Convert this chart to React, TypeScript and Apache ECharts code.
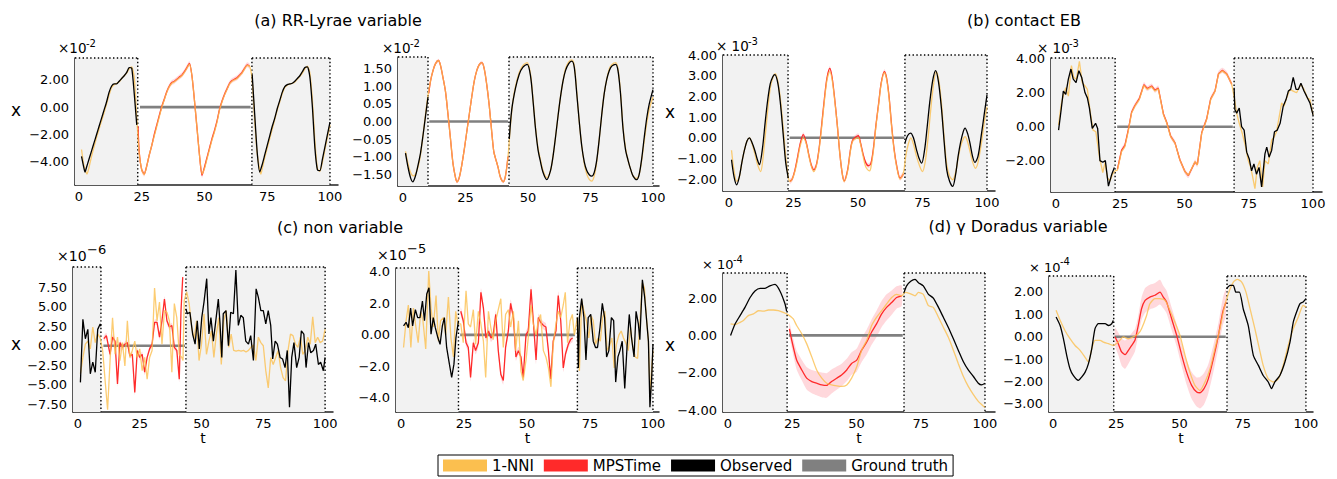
import React, { useEffect, useRef } from "react";
import * as echarts from "echarts";

type Pt = [number, number];

// ---------- shared ticks ----------
const X_TICKS = [0, 25, 50, 75, 100];
const X_TICK_LABELS = ["0", "25", "50", "75", "100"];
const LEGEND_NAMES = ["1-NNI", "MPSTime", "Observed", "Ground truth"];
const TITLES = ["(a) RR-Lyrae variable", "(b) contact EB", "(c) non variable", "(d) γ Doradus variable"];

// ---------- (a) left, x10^-2 ----------
const A1_GAP = [23.4, 68.9];
const A1_TRUTH: Pt[] = [[24.3, 0], [68.4, 0]];
const A1_Y_TICKS = [-4, -2, 0, 2];
const A1_Y_LABELS = ["−4.00", "−2.00", "0.00", "2.00"];
const A1_OBS_1: Pt[] = [[1, -3.6], [2, -4.5], [2.4, -4.75], [3, -4.4], [4, -3.8], [5, -3.2], [6, -2.6], [7, -2.0], [8, -1.4], [9, -0.8], [10, -0.2], [11, 0.4], [12, 1.1], [13, 1.55], [14, 1.7], [15, 1.7], [16, 1.9], [17, 2.1], [18, 2.3], [19, 2.55], [20, 2.9], [21, 2.85], [22, 1.0], [23, -1.3]];
const A1_OBS_2: Pt[] = [[69, 2.4], [70, -0.5], [71, -3.3], [72, -4.75], [73, -4.2], [74, -3.5], [75, -2.8], [76, -2.1], [77, -1.4], [78, -0.8], [79, -0.1], [80, 0.5], [81, 1.1], [82, 1.5], [83, 1.65], [84, 1.7], [85, 1.75], [86, 1.9], [87, 2.1], [88, 2.3], [89, 2.6], [90, 2.9], [91, 2.95], [92, 2.2], [93, 0.0], [94, -3.0], [95, -4.6], [96, -4.65], [97, -3.8], [98, -2.9], [99, -2.0], [100, -1.1]];
const A1_NNI: Pt[] = [[1, -3.1], [2, -4.3], [3.2, -4.9], [4, -4.4], [5, -3.6], [6, -2.9], [7, -2.2], [8, -1.6], [9, -1.0], [10, -0.4], [11, 0.25], [12, 0.9], [13, 1.45], [14, 1.65], [15, 1.75], [16, 1.85], [17, 2.1], [18, 2.3], [19, 2.5], [20, 2.8], [21, 2.95], [22, 2.2], [23, -0.8], [24, -3.4], [25, -4.6], [26, -4.95], [27, -4.3], [28, -3.5], [29, -2.8], [30, -2.1], [31, -1.4], [32, -0.7], [33, 0.0], [34, 0.55], [35, 1.1], [36, 1.5], [37, 1.75], [38, 1.85], [39, 2.0], [40, 2.15], [41, 2.3], [42, 2.55], [43, 2.85], [44, 3.15], [45, 2.3], [46, 0.5], [47, -1.5], [48, -3.5], [49, -4.9], [50, -4.5], [51, -3.8], [52, -3.1], [53, -2.4], [54, -1.8], [55, -1.1], [56, -0.2], [57, 0.4], [58, 0.9], [59, 1.3], [60, 1.7], [61, 1.9], [62, 2.0], [63, 2.1], [64, 2.3], [65, 2.5], [66, 2.8], [67, 3.05], [68, 3.0], [69, 2.0], [70, -1.0], [71, -3.4], [72.5, -4.9], [73, -4.5], [74, -3.7], [75, -3.0], [76, -2.3], [77, -1.6], [78, -0.9], [79, -0.2], [80, 0.4], [81, 1.0], [82, 1.45], [83, 1.6], [84, 1.7], [85, 1.75], [86, 1.85], [87, 2.05], [88, 2.25], [89, 2.5], [90, 2.8], [91, 3.0], [92, 2.5], [93, 0.5], [94, -2.5], [95, -4.5], [96, -4.7], [97, -4.0], [98, -3.1], [99, -2.2], [100, -1.3]];
const A1_MPS: Pt[] = [[23.5, -1.4], [24, -3.3], [25, -4.6], [26, -4.9], [27, -4.3], [28, -3.5], [29, -2.8], [30, -2.0], [31, -1.3], [32, -0.6], [33, 0.05], [34, 0.6], [35, 1.15], [36, 1.55], [37, 1.8], [38, 1.9], [39, 2.05], [40, 2.2], [41, 2.35], [42, 2.6], [43, 2.9], [44, 3.2], [45, 2.3], [46, 0.5], [47, -1.5], [48, -3.5], [49, -5.0], [50, -4.4], [51, -3.7], [52, -3.0], [53, -2.3], [54, -1.7], [55, -1.0], [56, -0.15], [57, 0.45], [58, 0.95], [59, 1.35], [60, 1.75], [61, 1.95], [62, 2.05], [63, 2.15], [64, 2.35], [65, 2.55], [66, 2.85], [67, 3.1], [68, 3.0]];
const A1_BAND = 0.18;

// ---------- (a) right, x10^-2 ----------
const A2_GAP = [10, 42.4];
const A2_TRUTH: Pt[] = [[10.5, 0], [42, 0]];
const A2_Y_TICKS = [-1.5, -1, -0.5, 0, 0.5, 1, 1.5];
const A2_Y_LABELS = ["−1.50", "−1.00", "−0.05", "0.00", "0.05", "1.00", "1.50"];
const A2_OBS_1: Pt[] = [[1, -0.9], [2, -1.3], [3, -1.6], [3.9, -1.72], [5, -1.55], [6, -1.25], [7, -0.9], [8, -0.4], [9, 0.15], [10, 0.7]];
const A2_OBS_2: Pt[] = [[42.5, -0.5], [43.5, 0.34], [45, 0.95], [46.5, 1.35], [48, 1.55], [49.7, 1.63], [51, 1.3], [52, 0.6], [53, -0.2], [54, -0.8], [55, -1.15], [56, -1.45], [57.5, -1.66], [59, -1.4], [60, -1.0], [61, -0.45], [62, 0.15], [63, 0.7], [64, 1.15], [65, 1.45], [66.3, 1.65], [67.5, 1.72], [68.5, 1.55], [69.5, 0.8], [70.5, 0.0], [71.5, -0.7], [72.5, -1.15], [73.5, -1.4], [74.5, -1.52], [75.5, -1.56], [76.5, -1.45], [77.5, -1.1], [78.5, -0.5], [79.5, 0.2], [80.5, 0.8], [81.5, 1.2], [82.5, 1.45], [83.5, 1.58], [85.1, 1.63], [86, 1.45], [87, 0.8], [88, -0.2], [89, -0.8], [90, -1.1], [91, -1.35], [92, -1.55], [93.5, -1.66], [94.5, -1.5], [95.5, -1.05], [96.5, -0.45], [97.5, 0.1], [98.5, 0.5], [100, 0.91]];
const A2_NNI: Pt[] = [[1, -0.85], [2, -1.2], [3, -1.45], [4, -1.55], [4.8, -1.53], [6, -1.3], [7, -0.95], [8, -0.4], [9, 0.2], [10, 0.75], [11, 1.15], [12, 1.45], [13, 1.65], [14.2, 1.74], [15, 1.6], [16, 1.25], [17, 0.85], [18, 0.2], [19, -0.5], [20, -1.2], [21, -1.6], [21.6, -1.72], [22.5, -1.6], [23.5, -1.25], [24.5, -0.8], [25.5, -0.3], [26.5, 0.2], [27.5, 0.7], [28.5, 1.15], [29.5, 1.45], [30.5, 1.62], [31.6, 1.68], [32.5, 1.5], [33.5, 1.05], [34.5, 0.45], [35.5, -0.3], [36.3, -0.85], [37, -1.05], [38, -1.3], [39, -1.6], [40.1, -1.72], [41, -1.55], [42, -1.0], [43, -0.1], [44, 0.6], [45, 1.0], [46.5, 1.4], [48, 1.6], [49.7, 1.68], [51, 1.35], [52, 0.65], [53, -0.15], [54, -0.75], [55, -1.1], [56, -1.4], [57.5, -1.6], [59, -1.4], [60, -1.0], [61, -0.45], [62, 0.15], [63, 0.7], [64, 1.15], [65, 1.5], [66.3, 1.7], [67.5, 1.76], [68.5, 1.6], [69.5, 0.85], [70.5, 0.0], [71.5, -0.7], [72.5, -1.2], [73.5, -1.5], [74.5, -1.65], [75.5, -1.7], [76.5, -1.55], [77.5, -1.15], [78.5, -0.5], [79.5, 0.2], [80.5, 0.8], [81.5, 1.2], [82.5, 1.5], [83.5, 1.62], [85.1, 1.68], [86, 1.5], [87, 0.85], [88, -0.15], [89, -0.75], [90, -1.1], [91, -1.35], [92, -1.55], [93.5, -1.62], [94.5, -1.5], [95.5, -1.1], [96.5, -0.55], [97.5, -0.05], [98.5, 0.35], [100, 0.7]];
const A2_MPS: Pt[] = [[10.3, 0.8], [11, 1.15], [12, 1.45], [13, 1.65], [14.2, 1.74], [15, 1.6], [16, 1.25], [17, 0.85], [18, 0.2], [19, -0.5], [20, -1.2], [21, -1.6], [21.6, -1.72], [22.5, -1.6], [23.5, -1.25], [24.5, -0.8], [25.5, -0.3], [26.5, 0.2], [27.5, 0.7], [28.5, 1.15], [29.5, 1.45], [30.5, 1.62], [31.6, 1.68], [32.5, 1.5], [33.5, 1.05], [34.5, 0.45], [35.5, -0.3], [36.3, -0.85], [37, -1.05], [38, -1.3], [39, -1.6], [40.1, -1.72], [41, -1.55], [42, -1.0]];
const A2_BAND = 0.05;

// ---------- (b) left, x10^-3 ----------
const B1_GAP = [22.9, 68.2];
const B1_TRUTH: Pt[] = [[23.5, 0], [68, 0]];
const B1_Y_TICKS = [-2, -1, 0, 1, 2, 3, 4];
const B1_Y_LABELS = ["−2.00", "−1.00", "0.00", "1.00", "2.00", "3.00", "4.00"];
const B1_OBS_1: Pt[] = [[1, -1.06], [2, -1.9], [3, -2.27], [4, -1.9], [5, -1.2], [6, -0.6], [7, -0.15], [7.9, 0.0], [9, -0.25], [10, -0.6], [11, -1.05], [11.8, -1.3], [13, -0.5], [14, 0.7], [15, 1.8], [16, 2.6], [17, 2.95], [17.8, 3.05], [19, 2.6], [20, 1.6], [21, 0.2], [22, -1.2], [23, -1.95]];
const B1_OBS_2: Pt[] = [[68.2, -0.26], [69.2, 0.1], [70.4, 0.23], [71.5, 0.0], [72.7, -0.58], [73.7, -1.0], [74.7, -1.22], [75.8, -0.6], [76.8, 0.5], [77.8, 1.7], [79, 2.8], [80.1, 3.25], [81.2, 2.7], [82.4, 1.35], [83.4, -0.2], [84.4, -1.55], [85.5, -2.1], [86.7, -2.35], [87.8, -1.8], [88.8, -0.9], [89.8, -0.2], [90.8, 0.3], [91.5, 0.47], [92.5, 0.2], [93.4, -0.26], [94.4, -0.9], [95.3, -1.19], [96.5, -0.9], [97.9, 0.23], [99, 1.2], [100, 2.08]];
const B1_NNI: Pt[] = [[1, -0.6], [2, -1.6], [3, -2.1], [4, -1.9], [5, -1.2], [6, -0.6], [7, -0.15], [8, 0.0], [9, -0.3], [10, -0.75], [11, -1.25], [12.3, -1.63], [13, -1.2], [14, 0.0], [15, 1.3], [16, 2.4], [17, 2.9], [18, 3.1], [19, 2.7], [20, 1.8], [21, 0.5], [22, -0.9], [23, -1.9], [23.6, -2.11], [24.5, -2.0], [25.5, -1.65], [26.5, -1.1], [27.5, -0.45], [28.8, 0.0], [30, -0.3], [31, -0.9], [32, -1.4], [32.9, -1.63], [34, -1.3], [35, -0.5], [36, 0.6], [37, 1.8], [38, 2.8], [39.1, 3.2], [40, 2.8], [41, 1.8], [42, 0.6], [43, -0.8], [44, -1.8], [44.7, -2.11], [46, -1.6], [47, -0.7], [48, -0.15], [50.1, 0.0], [51, -0.3], [52, -0.9], [53, -1.4], [54.4, -1.6], [55, -1.45], [56, -0.6], [57, 0.6], [58, 1.6], [59, 2.6], [60.2, 3.15], [61, 2.9], [62, 2.0], [63, 0.6], [64, -0.6], [65, -1.4], [66.3, -2.0], [67.6, -1.7], [68.5, -0.9], [69.5, -0.3], [70.5, 0.0], [71.5, -0.3], [72.7, -0.9], [74, -1.4], [75, -1.63], [76, -1.2], [77, -0.2], [78, 1.1], [79, 2.3], [80.3, 3.2], [81.3, 2.8], [82.4, 1.6], [83.4, 0.0], [84.4, -1.3], [85.5, -1.85], [86.7, -2.03], [87.8, -1.7], [88.8, -1.0], [89.8, -0.4], [91, 0.0], [91.5, 0.06], [92.5, -0.2], [93.5, -0.7], [94.5, -1.2], [95.5, -1.47], [96.5, -1.2], [97.9, -0.2], [99, 0.8], [100, 1.5]];
const B1_MPS: Pt[] = [[23.6, -2.11], [24.5, -2.0], [25.5, -1.6], [26.5, -1.0], [27.5, -0.35], [28.8, 0.15], [30, -0.25], [31, -0.85], [32, -1.35], [32.9, -1.55], [34, -1.25], [35, -0.45], [36, 0.7], [37, 1.9], [38, 2.9], [39.1, 3.35], [40, 2.9], [41, 1.85], [42, 0.6], [43, -0.8], [44, -1.8], [44.7, -2.08], [46, -1.55], [47, -0.65], [48, -0.1], [50.1, 0.1], [51, -0.25], [52, -0.8], [53, -1.2], [54, -1.35], [55, -1.25], [56, -0.5], [57, 0.65], [58, 1.65], [59, 2.65], [60.2, 3.2], [61, 2.95], [62, 2.05], [63, 0.65], [64, -0.55], [65, -1.35], [66.3, -1.95], [67.6, -1.75]];
const B1_BAND = 0.12;

// ---------- (b) right, x10^-3 ----------
const B2_GAP = [23, 69.3];
const B2_TRUTH: Pt[] = [[23.8, 0], [68.8, 0]];
const B2_Y_TICKS = [-2, 0, 2, 4];
const B2_Y_LABELS = ["−2.00", "0.00", "2.00", "4.00"];
const B2_OBS_1: Pt[] = [[1, -0.2], [2, 1.0], [2.85, 2.1], [3.8, 1.9], [4.8, 2.8], [5.8, 3.4], [6.7, 2.8], [7.8, 2.6], [8.9, 3.3], [10, 2.9], [11.3, 2.0], [12.2, 1.7], [13, 1.1], [14.1, -0.1], [15.4, 0.2], [16.2, -0.1], [17.1, -2.0], [18.2, -2.1], [19.2, -2.0], [20.4, -3.5], [21.7, -2.8], [22.7, -2.4]];
const B2_OBS_2: Pt[] = [[69.3, 2.3], [69.6, 1.0], [70.3, 0.8], [71.3, 1.1], [72.2, 0.0], [73.2, -0.2], [74.2, -1.5], [75.2, -1.9], [76.1, -2.6], [77, -2.2], [78, -2.8], [79, -2.4], [80, -3.55], [81.3, -1.6], [82, -1.2], [82.9, -1.8], [83.9, -1.4], [85, -0.3], [86.1, -0.2], [87.2, 0.2], [88.4, 1.2], [89.5, 1.6], [90.4, 2.1], [91.3, 2.2], [92.3, 2.9], [93.4, 2.2], [94.3, 2.2], [95.3, 2.56], [96.5, 2.1], [97.5, 1.8], [98.8, 1.4], [100, 0.7]];
const B2_NNI: Pt[] = [[1, 0.1], [2, 1.3], [2.8, 1.8], [3.8, 2.3], [4.8, 1.8], [6, 3.6], [6.9, 2.9], [7.9, 2.8], [9.1, 3.85], [10.2, 2.6], [11.3, 2.4], [12.2, 2.2], [13.2, 1.0], [14.4, -0.2], [15.5, -0.3], [16.9, -1.8], [18.2, -2.7], [19.1, -2.1], [20, -3.0], [21, -3.2], [22, -2.8], [23, -2.6], [23.9, -2.56], [25.5, -1.47], [26.8, -1.17], [28.1, -0.28], [29.4, 0.81], [30.7, 1.21], [32.4, 1.6], [34.2, 2.44], [35.5, 2.2], [37.2, 2.36], [38.5, 2.1], [39.8, 2.24], [41.8, 0.71], [43.1, 0.22], [44.6, -0.58], [46.3, -0.97], [48.2, -1.96], [50.2, -2.66], [51.5, -2.86], [52.8, -2.46], [54.1, -2.06], [55, -2.26], [56.7, -0.38], [58.6, 0.42], [60.2, 1.61], [61.9, 2.1], [63.2, 3.1], [64.7, 3.29], [66.4, 3.1], [68.4, 2.5], [69.5, 1.6], [70.3, 0.8], [71.3, 0.2], [72.5, -0.4], [73.8, -1.2], [74.8, -2.0], [75.8, -2.4], [77.4, -3.65], [78.3, -2.4], [79.3, -2.0], [80.4, -3.55], [81.3, -2.0], [82.6, -2.2], [83.9, -0.8], [84.9, -0.6], [85.8, -0.3], [87.8, 1.4], [88.7, 1.2], [90, 1.8], [91, 2.2], [92.3, 2.1], [93.6, 2.0], [95.3, 2.5], [96.5, 2.2], [97.8, 1.7], [98.8, 1.6], [100, 0.7]];
const B2_MPS: Pt[] = [[23.9, -2.5], [25.5, -1.4], [26.8, -1.1], [28.1, -0.2], [29.4, 0.85], [30.7, 1.25], [32.4, 1.65], [34.2, 2.48], [35.5, 2.25], [37.2, 2.4], [38.5, 2.15], [39.8, 2.28], [41.8, 0.75], [43.1, 0.25], [44.6, -0.55], [46.3, -0.95], [48.2, -1.95], [50.2, -2.65], [51.5, -2.88], [52.8, -2.48], [54.1, -2.08], [55, -2.24], [56.7, -0.35], [58.6, 0.45], [60.2, 1.65], [61.9, 2.12], [63.2, 3.12], [64.7, 3.32], [66.4, 3.12], [68.4, 2.5]];
const B2_BAND = 0.15;

// ---------- (c) left, x10^-6 ----------
const C1_GAP = [9.3, 43.7];
const C1_TRUTH: Pt[] = [[10.3, 0], [43.3, 0]];
const C1_Y_TICKS = [-7.5, -5, -2.5, 0, 2.5, 5, 7.5];
const C1_Y_LABELS = ["−7.50", "−5.00", "−2.50", "0.00", "2.50", "5.00", "7.50"];
const C1_OBS_1: Pt[] = [[1, -4.7], [2, 3.4], [3, 0.9], [4, 2.1], [5, -3.6], [6, -2.1], [7, -3.4], [8, 2.1], [9, 2.8], [9.3, 2.5]];
const C1_OBS_2: Pt[] = [[43.7, 4.7], [44.3, 4.1], [45.3, 4.3], [46.4, 1.5], [47.4, 0.2], [48.3, 3.2], [49.1, -0.4], [50.1, 3.6], [51, 5.6], [52.1, 8.6], [53, 1.5], [53.8, 3.6], [54.8, 0.6], [55.7, 3.0], [56.8, 6.0], [57.5, 2.8], [58.2, -1.5], [58.8, 4.1], [59.9, 4.5], [60.9, 0], [61.8, 4.3], [62.9, 4.1], [63.9, 9.7], [64.9, 2.6], [65.9, 3.9], [66.9, 3.6], [67.9, 0.6], [69, 0.2], [69.9, 1.3], [71, -1.9], [72.1, 7.3], [73, 6.2], [74, 4.5], [75, 4.5], [76, 2.8], [77, 4.5], [78, 2.6], [78.8, -1.7], [79.8, 0.6], [80.7, 0.2], [81.8, -1.5], [82.8, -1.7], [83.8, -2.8], [84.7, -0.6], [85.6, -7.9], [86.5, -1.5], [87.4, 0.4], [88.5, -2.8], [89.5, -1.5], [90.4, 1.9], [91.4, 1.5], [92.3, -2.8], [93.3, 0.4], [94.2, -0.9], [95.3, -0.6], [96.2, 0.2], [97.3, -2.4], [98.2, -2.1], [99.3, -3.2], [100, -1.5]];
const C1_NNI: Pt[] = [[1, -3.6], [2, -1.5], [3, 0.2], [4, 0.6], [5, -0.4], [6, 2.4], [7, 0.4], [8, 1.5], [9, 1.0], [10, -0.6], [11, -4.5], [12, -8.2], [13, -1.9], [14, 3.6], [15, -1.1], [16, 1.1], [17, -1.9], [18, 0.4], [19, -2.6], [20, 3.2], [21, -1.5], [22, -0.6], [23, 0.6], [24, -1.5], [25, -0.4], [26, -3.2], [27, -1.5], [28, -4.3], [29, -1.5], [30, -0.6], [31, 7.4], [32, 3.2], [33, 5.6], [34, 0.2], [35, 4.5], [36, 4.3], [37, 3.2], [38, -3.4], [39, 5.4], [40, 3.6], [41, -1.1], [42, -1.5], [42.5, -1.9], [43, 5.8], [44, 6.9], [45, 5.4], [46, 2.4], [47, 0.9], [48, 3.2], [49, -1.9], [50, 0.2], [51, 4.1], [52, -1.1], [53, 0.6], [54, 1.9], [55, -1.5], [56, 1.5], [57, 3.6], [58, -2.4], [59, 3.2], [60, 4.5], [61, -0.2], [62, 1.5], [63, -0.6], [64, -0.7], [65, -0.6], [66, -0.7], [67, -0.6], [68, -0.8], [69, -0.6], [70, -0.2], [71, 0.1], [72, -1.9], [73, 1.1], [74, 0.4], [75, 0], [76, -3.2], [77, -5.4], [78, -1.5], [79, -2.4], [80, -1.5], [81, -0.6], [82, -2.8], [83, -4.1], [84, -4.5], [85, -0.6], [86, 1.5], [87, 1.3], [88, 0.2], [89, -0.2], [90, 1.1], [91, -1.1], [92, -0.6], [93, 1.1], [94, 0.2], [95, 3.7], [96, 0.4], [97, 1.1], [98, 0.4], [99, 0.6], [100, 2.1]];
const C1_MPS: Pt[] = [[10.5, 0.9], [11.5, 1.3], [13, -1.1], [14, 1.1], [15, 0.6], [16, -4.9], [17, 0.4], [18, -0.2], [19, 0.2], [20, 0.4], [21, -1.3], [22, -1.1], [23, -6.0], [24, -0.6], [25, -1.5], [26, -1.1], [27, -3.4], [28, -1.5], [29, -0.4], [30, 0.2], [31, 3.0], [32, 3.0], [33, 1.1], [34, 3.2], [35, 6.0], [36, 3.2], [37, 2.4], [38, 2.6], [39, -0.2], [40, -0.6], [41, -4.3], [41.7, 4.5], [42.4, 8.8]];
const C1_BAND = 0.35;

// ---------- (c) right, x10^-5 ----------
const C2_GAP = [22.8, 70];
const C2_TRUTH: Pt[] = [[23.5, 0], [69, 0]];
const C2_Y_TICKS = [-4, -2, 0, 2, 4];
const C2_Y_LABELS = ["−4.0", "−2.0", "0.00", "2.0", "4.0"];
const C2_OBS_1: Pt[] = [[1, 0.57], [2, 0.8], [2.9, 0.46], [3.8, 1.7], [4.6, 0.57], [5.7, 1.6], [6.6, 1.1], [7.5, 1.1], [8.5, 2.15], [9.3, 0.9], [10.2, 2.6], [11.1, 3.0], [11.9, 0.04], [12.8, 1.1], [13.6, 0.46], [14.6, -0.17], [15.5, -0.6], [16.4, 0.57], [17.2, 1.1], [18.1, -0.8], [19.2, -1.86], [20.1, -2.7], [21, -1.86], [21.8, -0.17], [22.8, 0.9]];
const C2_OBS_2: Pt[] = [[70, 1.1], [70.4, -2.1], [70.8, 1.1], [71.7, 2.3], [72.6, 1.1], [73.4, -1.6], [74.3, 1.1], [75.3, 1.3], [76.3, -0.4], [77.2, -0.8], [78, -0.8], [79, 0.5], [79.9, 2.0], [80.8, 1.1], [81.6, -1.4], [82.5, -1.0], [83.5, 1.1], [84.4, 0.9], [85.2, -3.0], [86.1, -1.4], [86.9, -1.0], [87.8, -0.4], [88.8, -3.4], [89.7, -0.8], [90.6, 1.3], [91.5, -0.2], [92.5, -1.4], [93.3, 1.5], [94.2, 0.7], [94.8, -0.3], [95.8, 3.5], [96.7, 2.4], [97.5, 0.9], [98.2, -0.4], [98.8, -4.6], [99.5, -2.7], [100, -0.6]];
const C2_NNI: Pt[] = [[1, -0.8], [2, 0.9], [2.9, 1.9], [3.9, -0.8], [4.9, 1.7], [5.9, 0.5], [6.8, -0.5], [7.8, 1.5], [8.7, 0.9], [9.8, -0.9], [11, 4.05], [11.9, 1.7], [12.8, 0.5], [13.9, 2.5], [14.8, -0.4], [15.7, 0.9], [16.8, 1.1], [17.7, 0], [18.8, 2.4], [19.8, -0.2], [20.8, -1.4], [21.7, 1.5], [22.6, 0.7], [23.7, 0.7], [24.7, -0.5], [25.8, 2.8], [26.7, 0.7], [27.6, 0.5], [28.7, 1.6], [29.6, -0.6], [30.7, 1.5], [31.6, 0.8], [32.7, -0.4], [33.6, -2.7], [34.7, 1.5], [35.6, 0.5], [36.6, -0.3], [37.6, 0.9], [38.6, 1.6], [39.6, 2.3], [40.6, -0.8], [41.5, 1.3], [42.6, 1.6], [43.5, 0.5], [44.6, 1.5], [45.5, -1.0], [46.6, 0.9], [47.6, -2.3], [48.5, -2.9], [49.6, -1.6], [50.5, -0.2], [51.6, 1.9], [52.5, 0.7], [53.6, 0], [54.5, 0.9], [55.4, 1.3], [56.5, -1.0], [57.5, -1.4], [58.5, -2.1], [59.5, -3.3], [60.4, -0.6], [61.5, 0.7], [62.4, 1.5], [63.4, 1.1], [64.4, 1.9], [65.2, 2.7], [66.1, -0.5], [67.1, 0.9], [68, 1.3], [68.8, 0], [70, 1.1], [70.8, -2.3], [71.7, 2.2], [72.6, 1.5], [73.6, 0.9], [74.5, -0.2], [75.5, 1.2], [76.3, 0.9], [77.2, -0.6], [78.2, -0.2], [79.1, -0.4], [80, 1.1], [80.9, 1.5], [81.8, -1.0], [82.8, -0.7], [83.7, -0.2], [84.6, -2.1], [85.5, -0.6], [86.5, 0], [87.4, 0.25], [88.3, -0.2], [89.2, -0.5], [90.2, -1.0], [91.1, 0.5], [92, -0.8], [93, -1.4], [93.9, -1.5], [94.8, 0.7], [95.8, 3.3], [96.6, 3.0], [97.5, 0.9], [98.2, -0.4], [98.9, -4.0], [99.5, -2.1], [100, -1.0]];
const C2_MPS: Pt[] = [[23.7, 1.5], [24.7, 0.9], [25.8, -0.5], [26.7, -0.8], [27.6, -2.7], [28.7, -0.5], [29.6, -1.0], [30.7, -0.5], [31.7, 2.7], [32.7, 1.7], [33.7, -0.2], [34.7, 0.25], [35.7, -0.2], [36.6, 0], [37.6, 1.3], [38.6, -1.0], [39.6, -2.5], [40.6, -2.9], [41.5, -0.8], [42.6, 0.25], [43.5, 2.0], [44.6, 1.1], [45.6, -1.4], [46.6, -1.0], [47.6, -1.4], [48.5, -2.7], [49.6, 0], [50.5, 0.25], [51.6, 2.9], [52.5, 0.9], [53.6, -1.6], [54.5, 1.1], [55.4, 0.8], [56.5, 0.6], [57.5, 0.5], [58.5, -1.0], [59.4, -2.8], [60.4, -0.4], [61.5, 0.25], [62.4, 2.5], [63.4, 0.9], [64.4, -2.1], [65.3, -1.2], [66.4, -0.6], [67.3, -0.3], [68.1, -0.2]];
const C2_BAND = 0.25;

// ---------- (d) left, x10^-4 ----------
const D1_GAP = [23, 68.5];
const D1_TRUTH: Pt[] = [[23.7, 0], [68, 0]];
const D1_Y_TICKS = [-4, -2, 0, 2];
const D1_Y_LABELS = ["−4.00", "−2.00", "0.00", "2.00"];
const D1_OBS_1: Pt[] = [[1, 0], [2.7, 0.6], [4.7, 1.06], [6.6, 1.5], [8.6, 2.03], [10.5, 2.38], [12.5, 2.52], [14.4, 2.52], [16.3, 2.65], [18.3, 2.73], [20.2, 2.38], [22.2, 1.68], [22.8, 1.3]];
const D1_OBS_2: Pt[] = [[68.5, 2.3], [69.5, 2.65], [71.1, 2.9], [72.8, 3.0], [74.1, 2.82], [76, 2.65], [78, 2.2], [79.9, 2.0], [81.9, 1.5], [83.8, 0.97], [85.7, 0.44], [87.7, -0.18], [89.6, -0.79], [91.6, -1.41], [93.5, -1.85], [95.5, -2.2], [97.4, -2.56], [98.7, -2.65], [100, -2.56]];
const D1_NNI: Pt[] = [[1, 0.62], [2.7, 0.58], [4.7, 0.7], [6, 0.8], [7.9, 1.06], [9.9, 1.15], [11.8, 1.32], [13.8, 1.3], [15.7, 1.36], [17.7, 1.36], [19.6, 1.32], [21.5, 1.23], [23.5, 1.1], [25.4, 0.88], [26.7, 0.53], [28.7, 0.09], [30.6, -0.44], [32.6, -1.15], [34.5, -1.85], [36.5, -2.29], [38.4, -2.56], [40.3, -2.65], [42.3, -2.7], [44.2, -2.73], [46.2, -2.65], [48.1, -2.29], [50.1, -1.68], [52, -0.79], [54, -0.26], [55.9, 0.53], [57.8, 0.97], [59.8, 1.32], [61.7, 1.68], [63.7, 2.03], [65.6, 2.2], [67.6, 2.12], [68.9, 2.3], [70.8, 2.24], [72.8, 2.12], [74.1, 2.3], [76, 2.2], [78, 1.59], [79.9, 1.5], [81.9, 0.97], [83.8, 0.44], [85.7, -0.09], [87.7, -0.79], [89.6, -1.5], [91.6, -2.2], [93.5, -2.73], [95.5, -3.17], [97.4, -3.53], [99.4, -3.79], [100, -3.85]];
const D1_MPS: Pt[] = [[23.9, 0.35], [24.8, -0.26], [26.7, -1.32], [28.7, -1.85], [30.6, -2.29], [32.6, -2.47], [34.5, -2.56], [36.5, -2.65], [38.4, -2.68], [40.3, -2.47], [42.3, -2.29], [44.2, -2.12], [46.2, -1.85], [48.1, -1.5], [50.1, -1.32], [52, -0.79], [54, -0.35], [55.9, 0.18], [57.8, 0.62], [59.8, 1.15], [61.7, 1.5], [63.7, 1.76], [65.6, 2.03], [67.6, 2.12]];
const D1_BAND = [0.35, 0.4, 0.5, 0.55, 0.6, 0.62, 0.64, 0.66, 0.66, 0.64, 0.62, 0.6, 0.6, 0.6, 0.62, 0.64, 0.66, 0.68, 0.7, 0.7, 0.7, 0.65, 0.6, 0.55];

// ---------- (d) right, x10^-4 ----------
const D2_GAP = [24, 68.8];
const D2_TRUTH: Pt[] = [[24.3, 0], [68.3, 0]];
const D2_Y_TICKS = [-3, -2, -1, 0, 1, 2];
const D2_Y_LABELS = ["−3.00", "−2.00", "−1.00", "0.00", "1.00", "2.00"];
const D2_OBS_1: Pt[] = [[1.2, 0.88], [2.8, 0.5], [4.1, -0.09], [5.4, -0.83], [6.7, -1.43], [8, -1.73], [10, -1.95], [11.3, -1.8], [12.7, -1.58], [14, -1.2], [15.3, -0.54], [16.6, 0.36], [17.9, 0.58], [19.2, 0.58], [20.6, 0.58], [21.9, 0.5], [23.2, 0.58], [23.8, 0.73]];
const D2_OBS_2: Pt[] = [[68.6, 2.14], [70, 2.29], [71.3, 2.29], [72.3, 1.99], [73.7, 1.99], [75.2, 1.25], [77.2, 0.5], [79.2, -0.83], [81.2, -1.28], [83.1, -1.73], [85.1, -2.02], [86.4, -2.32], [87.7, -2.02], [89.7, -1.73], [91.7, -1.13], [93.7, -0.24], [95, 0.65], [96.3, 1.1], [97.6, 1.47], [98.9, 1.55], [100, 1.7]];
const D2_NNI: Pt[] = [[1.2, 1.18], [2.8, 0.73], [4.7, 0.28], [6.7, -0.09], [8.7, -0.39], [10.7, -0.61], [12.6, -0.91], [14, -1.13], [15.3, -0.54], [16.6, -0.16], [18.6, -0.16], [19.9, -0.24], [21.9, -0.31], [23.8, -0.39], [25.8, -0.24], [27.8, -0.01], [29.8, -0.09], [31.8, 0], [33.7, 0.13], [35, 0.36], [37, 0.95], [38.3, 1.47], [40.3, 1.7], [42.3, 1.7], [44.3, 1.62], [46.2, 1.18], [48.2, 0.65], [50.2, 0.06], [52.2, -0.83], [54.1, -1.58], [56.1, -2.17], [58.1, -2.4], [60.1, -2.02], [62.1, -1.43], [64, -0.54], [66, 0.36], [67.6, 1.25], [69.3, 1.92], [71.3, 2.44], [72.9, 2.56], [74.6, 2.44], [76.3, 1.99], [77.9, 1.25], [79.8, 0.36], [81.6, -0.54], [83.1, -1.28], [85.1, -1.88], [87.1, -2.02], [89.1, -1.88], [91, -1.28], [93, -0.39], [95, 0.36], [97, 0.88], [98.9, 1.4], [100, 1.32]];
const D2_MPS: Pt[] = [[24.5, 0], [25.8, -0.31], [27.1, -0.68], [28.5, -0.8], [29.8, -0.61], [31.1, -0.39], [32.4, -0.16], [33.7, 0.5], [35, 1.25], [36.4, 1.62], [38.3, 1.77], [40.3, 1.85], [42.3, 1.99], [43.6, 1.77], [44.9, 1.55], [46.9, 0.8], [48.9, 0.06], [50.9, -0.83], [52.8, -1.58], [54.8, -2.17], [56.8, -2.47], [58.1, -2.5], [59.7, -2.32], [61.4, -1.88], [63.4, -0.98], [65.4, 0.06], [67.1, 1.1], [68.4, 1.55]];
const D2_BAND = [0.4, 0.5, 0.6, 0.63, 0.6, 0.55, 0.5, 0.45, 0.5, 0.55, 0.55, 0.55, 0.55, 0.5, 0.5, 0.5, 0.5, 0.5, 0.55, 0.6, 0.65, 0.7, 0.7, 0.65, 0.6, 0.55, 0.6, 0.6];

// ---------- styling ----------
const FONT = '"DejaVu Sans", "Liberation Sans", sans-serif';
const C_NNI = "#fbbf4f";
const C_MPS = "#ff2a2a";
const C_OBS = "#000000";
const C_GT = "#808080";
const C_SHADE = "#f2f2f2";

interface Panel {
  left: number; top: number; width: number; height: number;
  xMin: number; xMax: number; yMin: number; yMax: number;
  yTicks: number[]; yLabels: string[];
  gap: number[]; truth: Pt[];
  obs1: Pt[]; obs2: Pt[]; nni: Pt[]; mps: Pt[]; band: number | number[];
  smooth: number | boolean; bottomRow: boolean;
}

const PANELS: Panel[] = [
  { left: 75, top: 58, width: 263, height: 127, xMin: -1.6, xMax: 103.2, yMin: -5.7, yMax: 3.6, yTicks: A1_Y_TICKS, yLabels: A1_Y_LABELS, gap: A1_GAP, truth: A1_TRUTH, obs1: A1_OBS_1, obs2: A1_OBS_2, nni: A1_NNI, mps: A1_MPS, band: A1_BAND, smooth: 0.2, bottomRow: false },
  { left: 398, top: 57, width: 261, height: 129, xMin: -2, xMax: 102.4, yMin: -1.84, yMax: 1.84, yTicks: A2_Y_TICKS, yLabels: A2_Y_LABELS, gap: A2_GAP, truth: A2_TRUTH, obs1: A2_OBS_1, obs2: A2_OBS_2, nni: A2_NNI, mps: A2_MPS, band: A2_BAND, smooth: 0.3, bottomRow: false },
  { left: 723, top: 55, width: 272, height: 136, xMin: -2.3, xMax: 103.1, yMin: -2.57, yMax: 4.0, yTicks: B1_Y_TICKS, yLabels: B1_Y_LABELS, gap: B1_GAP, truth: B1_TRUTH, obs1: B1_OBS_1, obs2: B1_OBS_2, nni: B1_NNI, mps: B1_MPS, band: B1_BAND, smooth: 0.3, bottomRow: false },
  { left: 1051, top: 58, width: 271, height: 134, xMin: -1.95, xMax: 103.5, yMin: -3.85, yMax: 4.05, yTicks: B2_Y_TICKS, yLabels: B2_Y_LABELS, gap: B2_GAP, truth: B2_TRUTH, obs1: B2_OBS_1, obs2: B2_OBS_2, nni: B2_NNI, mps: B2_MPS, band: B2_BAND, smooth: false, bottomRow: false },
  { left: 73, top: 267, width: 260, height: 145, xMin: -2.0, xMax: 103.2, yMin: -8.5, yMax: 10.1, yTicks: C1_Y_TICKS, yLabels: C1_Y_LABELS, gap: C1_GAP, truth: C1_TRUTH, obs1: C1_OBS_1, obs2: C1_OBS_2, nni: C1_NNI, mps: C1_MPS, band: C1_BAND, smooth: false, bottomRow: true },
  { left: 396, top: 268, width: 263, height: 144, xMin: -2.0, xMax: 102.4, yMin: -4.9, yMax: 4.25, yTicks: C2_Y_TICKS, yLabels: C2_Y_LABELS, gap: C2_GAP, truth: C2_TRUTH, obs1: C2_OBS_1, obs2: C2_OBS_2, nni: C2_NNI, mps: C2_MPS, band: C2_BAND, smooth: false, bottomRow: true },
  { left: 723, top: 273, width: 272, height: 139, xMin: -1.95, xMax: 103.9, yMin: -4.1, yMax: 3.34, yTicks: D1_Y_TICKS, yLabels: D1_Y_LABELS, gap: D1_GAP, truth: D1_TRUTH, obs1: D1_OBS_1, obs2: D1_OBS_2, nni: D1_NNI, mps: D1_MPS, band: D1_BAND, smooth: 0.2, bottomRow: true },
  { left: 1049, top: 276, width: 264, height: 136, xMin: -1.6, xMax: 102.8, yMin: -3.36, yMax: 2.71, yTicks: D2_Y_TICKS, yLabels: D2_Y_LABELS, gap: D2_GAP, truth: D2_TRUTH, obs1: D2_OBS_1, obs2: D2_OBS_2, nni: D2_NNI, mps: D2_MPS, band: D2_BAND, smooth: 0.2, bottomRow: true },
];

// exponent labels: [timesText, x, y, exponent, expX, expY, baseSize, expSize]
const EXPONENTS: [string, number, number, string, number, number, number, number][] = [
  ["×10", 58, 48, "-2", 86, 43, 13.5, 10],
  ["×10", 382, 48, "-2", 410, 43, 13.5, 10],
  ["× 10", 716, 46, "-3", 748, 41, 13.5, 10],
  ["× 10", 1037, 48, "-3", 1069, 43, 13.5, 10],
  ["×10", 57, 256, "−6", 87, 249, 14, 13],
  ["×10", 377, 255, "−5", 407, 248, 14, 13],
  ["× 10", 702, 264, "-4", 733, 259, 13, 10],
  ["× 10", 1029, 267, "-4", 1060, 261, 13, 10],
];

function pickLabel(values: number[], labels: string[], v: number): string {
  for (let i = 0; i < values.length; i++) if (Math.abs(values[i] - v) < 1e-9) return labels[i];
  return "";
}

function shadeRenderer(p: Panel) {
  return (_params: any, api: any) => {
    const tl = api.coord([p.xMin, p.yMax]);
    const br = api.coord([100, p.yMin]);
    const g0 = api.coord([p.gap[0], p.yMin])[0];
    const g1 = api.coord([p.gap[1], p.yMin])[0];
    const ls = { stroke: "#000", lineWidth: 1.4, lineDash: [1.4, 2.4] };
    const h = br[1] - tl[1];
    return {
      type: "group",
      children: [
        { type: "rect", shape: { x: tl[0], y: tl[1], width: g0 - tl[0], height: h }, style: { fill: C_SHADE } },
        { type: "rect", shape: { x: g1, y: tl[1], width: br[0] - g1, height: h }, style: { fill: C_SHADE } },
        { type: "line", shape: { x1: tl[0], y1: tl[1], x2: g0, y2: tl[1] }, style: ls },
        { type: "line", shape: { x1: g0, y1: tl[1], x2: g0, y2: br[1] }, style: ls },
        { type: "line", shape: { x1: g1, y1: tl[1], x2: br[0], y2: tl[1] }, style: ls },
        { type: "line", shape: { x1: g1, y1: tl[1], x2: g1, y2: br[1] }, style: ls },
        { type: "line", shape: { x1: br[0], y1: tl[1], x2: br[0], y2: br[1] }, style: ls },
      ],
    };
  };
}

function bandRenderer(p: Panel) {
  return (_params: any, api: any) => {
    const hw = (i: number) => (Array.isArray(p.band) ? p.band[i] : p.band);
    const upper = p.mps.map((d, i) => api.coord([d[0], d[1] + hw(i)]));
    const lower = p.mps.map((d, i) => api.coord([d[0], d[1] - hw(i)])).reverse();
    return {
      type: "polygon",
      shape: { points: upper.concat(lower), smooth: 0.2 },
      style: { fill: "rgba(255, 60, 80, 0.2)" },
    };
  };
}

function buildOption() {
  const grid: any[] = [];
  const xAxis: any[] = [];
  const yAxis: any[] = [];
  const series: any[] = [];
  const axisLine = { show: true, onZero: false, lineStyle: { color: "#222", width: 1.5 } };
  const labelStyle = { color: "#000", fontSize: 13, fontFamily: FONT };

  PANELS.forEach((p, i) => {
    grid.push({ left: p.left, top: p.top, width: p.width, height: p.height, containLabel: false, outerBoundsMode: "none" });
    xAxis.push({
      type: "value", gridIndex: i, min: p.xMin, max: p.xMax,
      axisLine, axisTick: { show: false }, splitLine: { show: false },
      axisLabel: { ...labelStyle, margin: 5, customValues: X_TICKS, formatter: (v: number) => pickLabel(X_TICKS, X_TICK_LABELS, v) },
      name: p.bottomRow ? "t" : "", nameLocation: "middle", nameGap: 17,
      nameTextStyle: { fontSize: 14, fontFamily: FONT, color: "#000" },
    });
    yAxis.push({
      type: "value", gridIndex: i, min: p.yMin, max: p.yMax,
      axisLine, axisTick: { show: false }, splitLine: { show: false },
      axisLabel: { ...labelStyle, margin: 6, customValues: p.yTicks, formatter: (v: number) => pickLabel(p.yTicks, p.yLabels, v) },
    });
    const common = { xAxisIndex: i, yAxisIndex: i, silent: true };
    series.push({ ...common, type: "custom", z: 1, renderItem: shadeRenderer(p), data: [[0, 0]] });
    series.push({ ...common, type: "custom", z: 2, renderItem: bandRenderer(p), data: [[0, 0]] });
    series.push({ ...common, type: "line", name: "Ground truth", z: 3, data: p.truth, symbol: "none", lineStyle: { color: C_GT, width: 2.6 }, itemStyle: { color: C_GT } });
    series.push({ ...common, type: "line", name: "MPSTime", z: 4, data: p.mps, symbol: "none", smooth: p.smooth, lineStyle: { color: C_MPS, width: 1.3 }, itemStyle: { color: C_MPS } });
    series.push({ ...common, type: "line", name: "1-NNI", z: 5, data: p.nni, symbol: "none", smooth: p.smooth, lineStyle: { color: C_NNI, width: 1.3, opacity: 0.8 }, itemStyle: { color: C_NNI } });
    series.push({ ...common, type: "line", name: "Observed", z: 6, data: p.obs1, symbol: "none", smooth: p.smooth, lineStyle: { color: C_OBS, width: 1.3 }, itemStyle: { color: C_OBS } });
    series.push({ ...common, type: "line", name: "Observed", z: 6, data: p.obs2, symbol: "none", smooth: p.smooth, lineStyle: { color: C_OBS, width: 1.3 }, itemStyle: { color: C_OBS } });
  });

  const graphic: any[] = [];
  const titlePos: [number, number][] = [[338, 20], [1024, 20], [340, 227], [1018, 226]];
  TITLES.forEach((t, i) => {
    graphic.push({ type: "text", x: titlePos[i][0], y: titlePos[i][1], silent: true, style: { text: t, fontSize: 16, fontFamily: FONT, fill: "#000", textAlign: "center", textVerticalAlign: "middle" } });
  });
  const xNamePos: [number, number][] = [[16, 110], [670, 112], [16, 344], [670, 345]];
  xNamePos.forEach(([x, y]) => {
    graphic.push({ type: "text", x, y, silent: true, style: { text: "x", fontSize: 17, fontFamily: FONT, fill: "#000", textAlign: "center", textVerticalAlign: "middle" } });
  });
  EXPONENTS.forEach(([t, x, y, e, ex, ey, bs, es]) => {
    graphic.push({ type: "text", x, y, silent: true, style: { text: t, fontSize: bs, fontFamily: FONT, fill: "#000", textAlign: "left", textVerticalAlign: "middle" } });
    graphic.push({ type: "text", x: ex, y: ey, silent: true, style: { text: e, fontSize: es, fontFamily: FONT, fill: "#000", textAlign: "left", textVerticalAlign: "middle" } });
  });

  const legendColors = [C_NNI, C_MPS, C_OBS, C_GT];
  return {
    animation: false,
    backgroundColor: "#ffffff",
    grid, xAxis, yAxis, series, graphic,
    legend: {
      left: 438, top: 455, orient: "horizontal", icon: "rect", itemWidth: 44, itemHeight: 12, itemGap: 10,
      padding: [3, 5, 3, 5], borderColor: "#000", borderWidth: 1, borderRadius: 0, selectedMode: false,
      textStyle: { fontSize: 15, fontFamily: FONT, color: "#000" },
      data: LEGEND_NAMES.map((n, i) => ({ name: n, itemStyle: { color: legendColors[i], borderWidth: 0 } })),
    },
  };
}

export default function App() {
  const ref = useRef<HTMLDivElement>(null);
  useEffect(() => {
    if (!ref.current) return;
    const chart = echarts.init(ref.current, undefined, { renderer: "svg" });
    chart.setOption(buildOption() as any);
    return () => chart.dispose();
  }, []);
  return <div ref={ref} style={{ position: "fixed", left: 0, top: 0, width: 1337, height: 479, background: "#fff" }} />;
}
